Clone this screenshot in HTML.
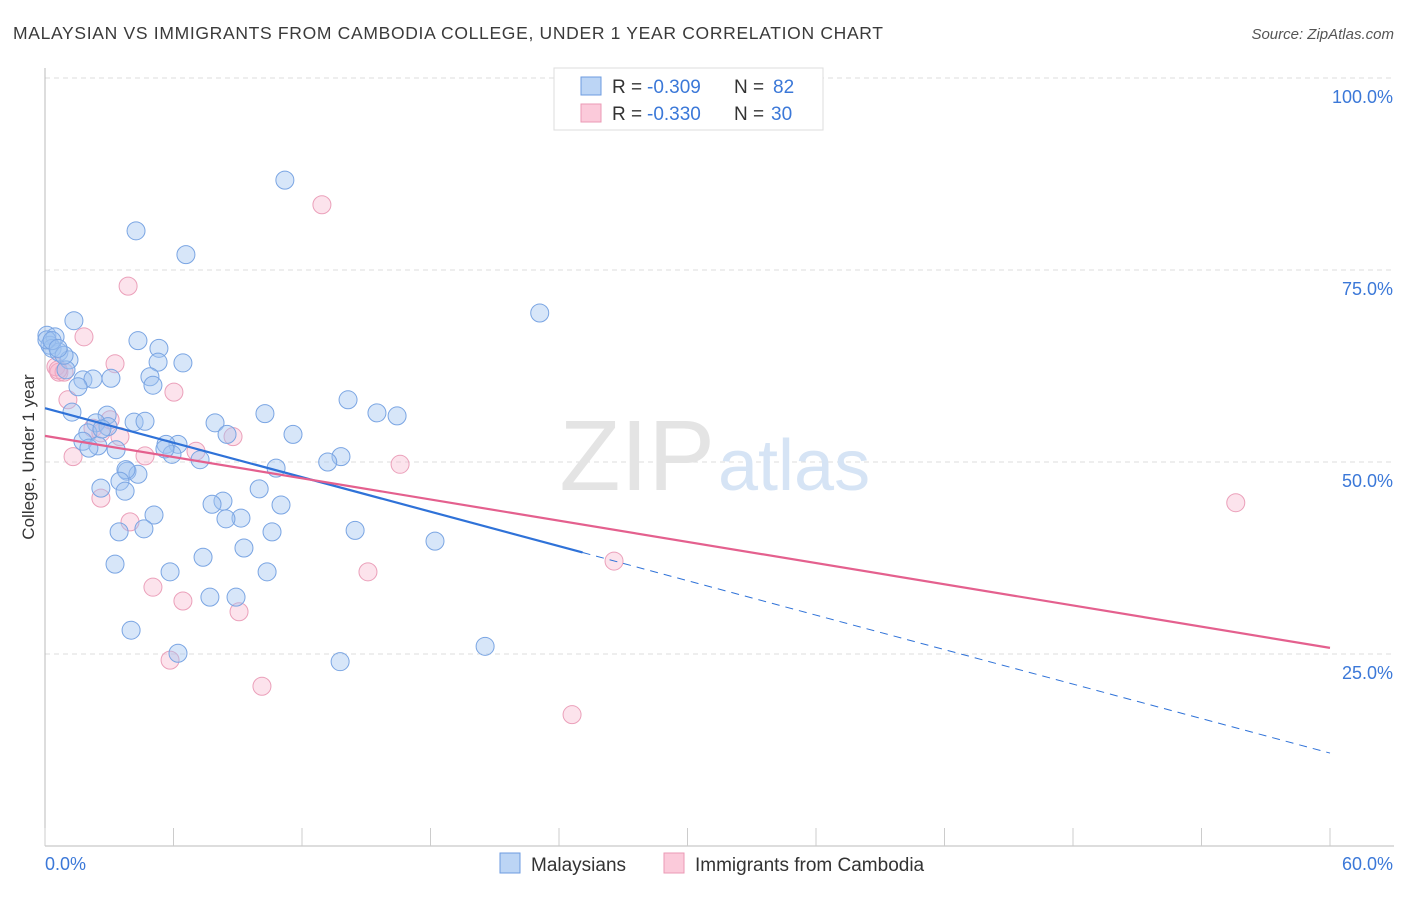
<!DOCTYPE html>
<html><head><meta charset="utf-8"><style>
body{margin:0;background:#fff;font-family:"Liberation Sans",sans-serif}
svg text{font-family:"Liberation Sans",sans-serif}
</style></head><body>
<svg id="chart" width="1406" height="892" xmlns="http://www.w3.org/2000/svg">
<text x="13" y="39" font-size="17.5" fill="#3a3a3a" textLength="870" lengthAdjust="spacing">MALAYSIAN VS IMMIGRANTS FROM CAMBODIA COLLEGE, UNDER 1 YEAR CORRELATION CHART</text>
<text x="1394" y="39" font-size="15" fill="#555" text-anchor="end" font-style="italic">Source: ZipAtlas.com</text>
<g id="grid"></g>
<text x="715" y="490" font-size="100" text-anchor="end" fill="#e4e4e4" font-family="Liberation Serif">ZIP</text>
<text x="718" y="490" font-size="72" fill="#d6e4f5">atlas</text>
<g id="marks"></g>
<text transform="translate(34,457) rotate(-90)" font-size="17" fill="#333" text-anchor="middle">College, Under 1 year</text>
<g>
<rect x="554" y="68" width="269" height="62" fill="#fff" stroke="#ddd"/>
<rect x="581" y="77" width="20" height="18" fill="#bcd5f5" stroke="#6d9be0"/>
<rect x="581" y="104" width="20" height="18" fill="#fbcada" stroke="#eb9ab5"/>
<text x="612" y="93" font-size="19" fill="#333">R =</text>
<text x="647" y="93" font-size="19" fill="#3b78d8">-0.309</text>
<text x="734" y="93" font-size="19" fill="#333">N =</text>
<text x="773" y="93" font-size="19" fill="#3b78d8">82</text>
<text x="612" y="120" font-size="19" fill="#333">R =</text>
<text x="647" y="120" font-size="19" fill="#3b78d8">-0.330</text>
<text x="734" y="120" font-size="19" fill="#333">N =</text>
<text x="771" y="120" font-size="19" fill="#3b78d8">30</text>
</g>
<g>
<rect x="500" y="853" width="20" height="20" fill="#bcd5f5" stroke="#6d9be0"/>
<text x="531" y="871" font-size="19" fill="#333">Malaysians</text>
<rect x="664" y="853" width="20" height="20" fill="#fbcada" stroke="#eb9ab5"/>
<text x="695" y="871" font-size="19" fill="#333">Immigrants from Cambodia</text>
</g>
</svg>
<script>
const xTicks=[0,60];
const yTicks=[25,50,75,100];
const blueX=[11.2,4.25,6.58,23.1,1.35,0.09,0.47,0.23,0.33,0.65,4.34,5.32,1.12,5.28,6.44,0.98,3.08,4.9,1.77,2.24,1.54,5.04,14.15,1.26,10.27,15.5,16.44,2.9,7.94,2.38,4.16,4.67,2.94,2.0,8.5,11.58,1.77,6.21,2.47,2.05,3.32,5.65,5.93,7.24,13.82,13.2,10.79,3.83,4.34,3.78,3.5,2.61,3.74,10.0,8.31,7.8,11.02,5.09,9.15,8.45,4.62,3.46,14.48,10.6,18.21,9.29,7.38,3.27,5.84,10.37,7.7,8.92,4.02,6.21,20.55,13.78,0.09,0.89,0.33,0.61,2.66,5.6];
const blueY=[86.7,80.1,77.0,69.4,68.4,66.5,66.3,65.2,64.8,64.3,65.8,64.8,63.3,63.0,62.9,62.0,60.9,61.1,60.7,60.8,59.8,60.0,58.1,56.5,56.3,56.4,56.0,56.1,55.1,55.1,55.2,55.3,54.6,53.8,53.6,53.6,52.7,52.3,52.1,51.8,51.6,52.3,51.0,50.3,50.7,50.0,49.2,48.8,48.4,49.0,47.5,46.6,46.2,46.5,44.9,44.5,44.4,43.1,42.7,42.6,41.3,40.9,41.1,40.9,39.7,38.8,37.6,36.7,35.7,35.7,32.4,32.4,28.1,25.1,26.0,24.0,65.9,63.9,65.8,64.8,54.3,51.7];
const pinkX=[12.93,3.88,1.82,3.27,0.51,0.65,0.89,6.02,1.07,3.04,2.24,2.61,3.5,8.78,7.05,4.67,1.31,16.58,2.61,3.97,55.6,26.57,5.04,6.44,15.08,9.06,5.84,10.13,24.61,0.61];
const pinkY=[83.5,72.9,66.3,62.8,62.4,61.7,61.7,59.1,58.1,55.5,54.4,53.8,53.3,53.3,51.4,50.8,50.7,49.7,45.3,42.2,44.7,37.1,33.7,31.9,35.7,30.5,24.2,20.8,17.1,62.0];
const blueTrend=[57.0,12.1];
const blueSolidEnd=[25.1];
const pinkTrend=[53.4,25.8];
const X0=45,X1=1330,Y0=846,Y100=78;
const sx=v=>X0+(v/60)*(X1-X0);
const sy=v=>Y0-(v/100)*(Y0-Y100);
const NS='http://www.w3.org/2000/svg';
function mk(tag,attrs,parent){const e=document.createElementNS(NS,tag);for(const k in attrs)e.setAttribute(k,attrs[k]);parent.appendChild(e);return e;}
const grid=document.getElementById('grid'),marks=document.getElementById('marks'),svg=document.getElementById('chart');
yTicks.forEach(t=>{
 const l=mk('line',{x1:X0,x2:1394,y1:sy(t),y2:sy(t),stroke:'#ddd','stroke-dasharray':'5,4'},grid);
 
 
 const tx=mk('text',{x:1393,y:sy(t)+25,'font-size':18,fill:'#3b78d8','text-anchor':'end'},svg);
 tx.textContent=t.toFixed(1)+'%';
 
 
});
const ax=mk('line',{x1:X0,x2:X0,y1:68,y2:Y0,stroke:'#bbb'},grid);


const bx=mk('line',{x1:X0,x2:1394,y1:Y0,y2:Y0,stroke:'#bbb'},grid);


for(let i=0;i<=10;i++){const v=i*6;const t=mk('line',{x1:sx(v),x2:sx(v),y1:Y0-18,y2:Y0,stroke:'#ccc'},grid);
 
 }
xTicks.forEach((t,i)=>{const tx=mk('text',{x:i?1393:45,y:870,'font-size':18,fill:'#3b78d8','text-anchor':i?'end':'start'},svg);
 tx.textContent=t.toFixed(1)+'%';
 
 });
pinkX.forEach((x,i)=>{const c=mk('circle',{cx:sx(x),cy:sy(pinkY[i]),r:9,fill:'rgba(246,175,200,0.35)',stroke:'#eba0ba','stroke-width':1},marks);
 
 });
blueX.forEach((x,i)=>{const c=mk('circle',{cx:sx(x),cy:sy(blueY[i]),r:9,fill:'rgba(160,196,240,0.42)',stroke:'#7aa5e3','stroke-width':1},marks);
 
 });
const bAt=x=>blueTrend[0]+(blueTrend[1]-blueTrend[0])*x/60;
const bl=mk('line',{x1:sx(0),y1:sy(bAt(0)),x2:sx(blueSolidEnd[0]),y2:sy(bAt(blueSolidEnd[0])),stroke:'#2f72d8','stroke-width':2.2},marks);


const bd=mk('line',{x1:sx(blueSolidEnd[0]),y1:sy(bAt(blueSolidEnd[0])),x2:sx(60),y2:sy(bAt(60)),stroke:'#2f72d8','stroke-width':1,'stroke-dasharray':'8,6'},marks);


const pl=mk('line',{x1:sx(0),y1:sy(pinkTrend[0]),x2:sx(60),y2:sy(pinkTrend[1]),stroke:'#e4608e','stroke-width':2.2},marks);


</script>
</body></html>
